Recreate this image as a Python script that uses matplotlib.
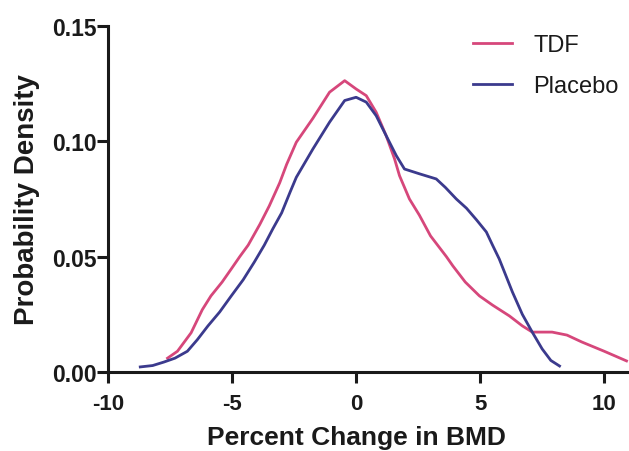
import matplotlib
matplotlib.use("Agg")
import matplotlib.pyplot as plt

# Data
tdf_x = [-7.6, -7.2, -6.65, -6.2, -5.85, -5.4, -5.03, -4.69, -4.35, -3.88, -3.5, -3.08, -2.8,
         -2.41, -1.74, -1.07, -0.46, 0.0, 0.41, 0.81, 1.21, 1.55, 1.75, 2.15, 2.55, 3.0, 3.64,
         3.9, 4.4, 4.97, 5.5, 6.18, 6.7, 7.1, 7.9, 8.5, 9.1, 10.0, 10.9]
tdf_y = [0.006, 0.009, 0.017, 0.027, 0.033, 0.039, 0.0447, 0.050, 0.055, 0.064, 0.072, 0.082, 0.090,
         0.0996, 0.110, 0.1213, 0.1263, 0.1227, 0.1198, 0.1126, 0.1025, 0.0924, 0.0851, 0.075, 0.068,
         0.059, 0.050, 0.046, 0.039, 0.033, 0.029, 0.0243, 0.020, 0.0173, 0.0173, 0.016, 0.013,
         0.009, 0.0048]

placebo_x = [-8.7, -8.2, -7.75, -7.3, -6.8, -6.4, -5.97, -5.5, -5.03, -4.55, -4.1, -3.7, -3.36,
             -3.0, -2.66, -2.41, -1.74, -1.07, -0.46, 0.0, 0.41, 0.81, 1.21, 1.62, 1.95, 2.56,
             3.23, 3.6, 4.04, 4.45, 4.85, 5.25, 5.5, 5.77, 6.3, 6.7, 7.1, 7.5, 7.85, 8.2]
placebo_y = [0.0022, 0.0028, 0.0043, 0.006, 0.009, 0.014, 0.020, 0.026, 0.033, 0.040, 0.0477, 0.055,
             0.062, 0.069, 0.078, 0.0844, 0.0967, 0.1083, 0.1177, 0.1191, 0.117, 0.1111, 0.1025,
             0.0938, 0.088, 0.0859, 0.0837, 0.080, 0.075, 0.071, 0.066, 0.0607, 0.055, 0.049,
             0.0347, 0.025, 0.0173, 0.010, 0.005, 0.0026]

series_labels = ["TDF", "Placebo"]
x_ticks = [-10, -5, 0, 5, 10]
x_ticklabels = ["-10", "-5", "0", "5", "10"]
y_ticks = [0.00, 0.05, 0.10, 0.15]
y_ticklabels = ["0.00", "0.05", "0.10", "0.15"]

plt.rcParams['font.family'] = ['Liberation Sans', 'DejaVu Sans']

W, H = 629, 452
fig = plt.figure(figsize=(W / 100, H / 100), dpi=100)
ax = fig.add_axes([108 / W, 1 - 373 / H, 1 - 108 / W, (373 - 27) / H])

ax.plot(tdf_x, tdf_y, color='#d6477b', lw=2.0, label=series_labels[0])
ax.plot(placebo_x, placebo_y, color='#3b3a8d', lw=2.0, label=series_labels[1])

ax.set_xlim(-10, 11)
ax.set_ylim(0, 0.15)
ax.set_xticks(x_ticks)
ax.set_xticklabels(x_ticklabels)
ax.set_yticks(y_ticks)
ax.set_yticklabels(y_ticklabels)

for s in ['top', 'right']:
    ax.spines[s].set_visible(False)
for s in ['left', 'bottom']:
    ax.spines[s].set_linewidth(2.2)
    ax.spines[s].set_color('#1a1a1a')
    ax.spines[s].set_capstyle('projecting')

ax.tick_params(axis='both', direction='out', length=8, width=2.2, color='#1a1a1a',
               labelcolor='#1a1a1a')
ax.tick_params(axis='x', labelsize=16, pad=7)
ax.tick_params(axis='y', labelsize=16.5, pad=0)
for lbl in ax.get_xticklabels() + ax.get_yticklabels():
    lbl.set_fontweight('bold')

ax.set_xlabel("Percent Change in BMD", fontsize=19, fontweight='bold', color='#1a1a1a',
              labelpad=8, x=(356 - 108) / (W - 108))
ax.set_ylabel("Probability Density", fontsize=20, fontweight='bold', color='#1a1a1a', labelpad=9)

leg = ax.legend(loc='upper left', bbox_to_anchor=(473 / W, 1 - 35 / H),
                bbox_transform=fig.transFigure, frameon=False, fontsize=17,
                handlelength=1.65, handletextpad=0.9, labelspacing=0.8,
                borderpad=0, borderaxespad=0)
for t in leg.get_texts():
    t.set_color('#1a1a1a')

fig.savefig("out.png", dpi=100)
